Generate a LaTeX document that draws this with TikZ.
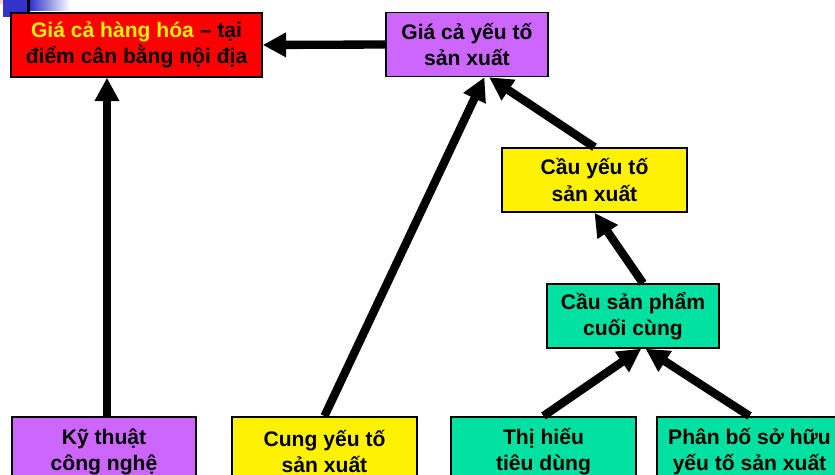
\documentclass[tikz,border=0pt]{standalone}
\usepackage{fontspec}
\setmainfont{Liberation Sans}
\usetikzlibrary{arrows.meta}
\definecolor{lilac}{RGB}{204,102,255}
\definecolor{mint}{RGB}{0,224,160}
\definecolor{slideblue}{RGB}{51,51,204}
\definecolor{slidepink}{RGB}{255,204,204}
\begin{document}
\begin{tikzpicture}[x=0.3mm,y=-0.3mm,
  box/.style={draw=black,line width=0.45mm,align=center,inner sep=0pt,
    minimum height=19.2mm,font=\fontsize{18}{22.5}\selectfont\bfseries},
  base/.style={box,anchor=north,minimum height=21mm},
  link/.style={line width=2.5mm,-{Triangle[width=7mm,length=7mm]}}]
\path[use as bounding box,clip] (0,0) rectangle (835,475);
% slide corner
\fill[slidepink] (0,0) rectangle (18,4);
\fill[slideblue] (3,0) rectangle (27,17);
\shade[left color=slideblue,right color=white] (30,0) rectangle (70,11);
\fill[black] (27,0) rectangle (30,12);
% boxes
\node[box,fill=red,minimum width=75.3mm] (giahh) at (136.5,45)
  {\textcolor{yellow}{Giá cả hàng hóa} – tại\\điểm cân bằng nội địa};
\node[box,fill=lilac,minimum width=48.6mm] (giayt) at (467,44.5)
  {Giá cả yếu tố\\sản xuất};
\node[box,fill=yellow,minimum width=55.5mm] (cauyt) at (594.5,180)
  {Cầu yếu tố\\sản xuất};
\node[box,fill=mint,minimum width=51.6mm] (causp) at (633,316)
  {Cầu sản phẩm\\cuối cùng};
\node[base,fill=lilac,minimum width=55.2mm] (kythuat) at (104,416)
  {Kỹ thuật\\công nghệ};
\node[base,fill=yellow,minimum width=55.5mm] (cungyt) at (324.5,416)
  {Cung yếu tố\\sản xuất};
\node[base,fill=mint,minimum width=55.5mm] (thihieu) at (543.5,416)
  {Thị hiếu\\tiêu dùng};
\node[base,fill=mint,minimum width=55.5mm] (phanbo) at (749.5,416)
  {Phân bố sở hữu\\yếu tố sản xuất};
% arrows
\draw[link] (giayt.west) -- (giahh.east);
\draw[link] ([xshift=0.9mm]kythuat.north) -- ([xshift=0.9mm]kythuat.north |- giahh.south);
\draw[link] (cungyt.north) -- (giayt.-62);
\draw[link] (cauyt.north) -- (giayt.-56);
\draw[link] (causp.73) -- (cauyt.south);
\draw[link] (thihieu.north) -- (causp.-76);
\draw[link] (phanbo.north) -- (causp.-69);
\end{tikzpicture}
\end{document}
